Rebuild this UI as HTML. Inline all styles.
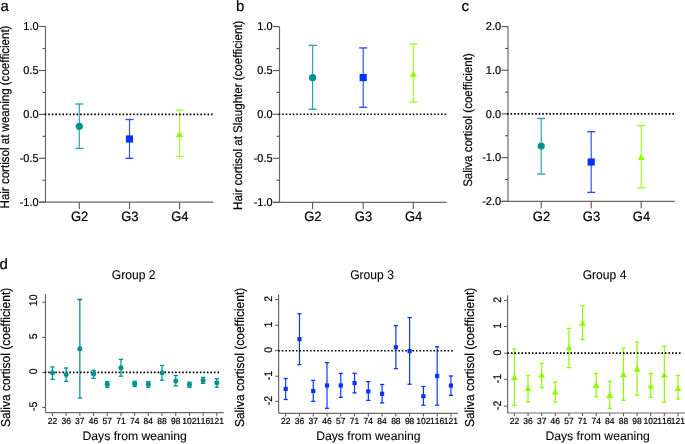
<!DOCTYPE html>
<html><head><meta charset="utf-8"><title>Figure</title><style>
html,body{margin:0;padding:0;background:#fff;width:685px;height:444px;overflow:hidden}
svg{display:block;will-change:transform}
text{font-family:"Liberation Sans",sans-serif;font-kerning:none;text-rendering:geometricPrecision}
</style></head><body>
<svg width="685" height="444" viewBox="0 0 685 444">

<line x1="45.50" y1="26.50" x2="45.50" y2="202.20" stroke="#6a6a6a" stroke-width="1.2" />
<line x1="39.00" y1="202.20" x2="213.40" y2="202.20" stroke="#6a6a6a" stroke-width="1.2" />
<line x1="39.00" y1="26.50" x2="45.50" y2="26.50" stroke="#555" stroke-width="1.1" />
<text transform="translate(38.60 30.30) scale(1.0 1.04)" font-size="11" text-anchor="end" fill="#000" stroke="#000" stroke-width="0.2">1.0</text>
<line x1="39.00" y1="70.50" x2="45.50" y2="70.50" stroke="#555" stroke-width="1.1" />
<text transform="translate(38.60 74.30) scale(1.0 1.04)" font-size="11" text-anchor="end" fill="#000" stroke="#000" stroke-width="0.2">0.5</text>
<line x1="39.00" y1="114.40" x2="45.50" y2="114.40" stroke="#555" stroke-width="1.1" />
<text transform="translate(38.60 118.20) scale(1.0 1.04)" font-size="11" text-anchor="end" fill="#000" stroke="#000" stroke-width="0.2">0.0</text>
<line x1="39.00" y1="158.30" x2="45.50" y2="158.30" stroke="#555" stroke-width="1.1" />
<text transform="translate(38.60 162.10) scale(1.0 1.04)" font-size="11" text-anchor="end" fill="#000" stroke="#000" stroke-width="0.2">-0.5</text>
<line x1="39.00" y1="202.20" x2="45.50" y2="202.20" stroke="#555" stroke-width="1.1" />
<text transform="translate(38.60 206.00) scale(1.0 1.04)" font-size="11" text-anchor="end" fill="#000" stroke="#000" stroke-width="0.2">-1.0</text>
<line x1="42.50" y1="48.50" x2="45.50" y2="48.50" stroke="#555" stroke-width="1.1" />
<line x1="42.50" y1="92.45" x2="45.50" y2="92.45" stroke="#555" stroke-width="1.1" />
<line x1="42.50" y1="136.35" x2="45.50" y2="136.35" stroke="#555" stroke-width="1.1" />
<line x1="42.50" y1="180.25" x2="45.50" y2="180.25" stroke="#555" stroke-width="1.1" />
<line x1="79.30" y1="202.20" x2="79.30" y2="209.00" stroke="#555" stroke-width="1.1" />
<text transform="translate(79.60 221.40) scale(1.0 1.04)" font-size="13" text-anchor="middle" fill="#000" stroke="#000" stroke-width="0.2">G2</text>
<line x1="129.50" y1="202.20" x2="129.50" y2="209.00" stroke="#555" stroke-width="1.1" />
<text transform="translate(129.80 221.40) scale(1.0 1.04)" font-size="13" text-anchor="middle" fill="#000" stroke="#000" stroke-width="0.2">G3</text>
<line x1="179.60" y1="202.20" x2="179.60" y2="209.00" stroke="#555" stroke-width="1.1" />
<text transform="translate(179.90 221.40) scale(1.0 1.04)" font-size="13" text-anchor="middle" fill="#000" stroke="#000" stroke-width="0.2">G4</text>
<text transform="translate(9.20 117.00) rotate(-90) scale(1.0 1.08)" font-size="11.55" text-anchor="middle" fill="#000" stroke="#000" stroke-width="0.2">Hair cortisol at weaning (coefficient)</text>
<line x1="79.30" y1="104.00" x2="79.30" y2="148.40" stroke="#2aa3a4" stroke-width="1.15" />
<line x1="75.30" y1="104.00" x2="83.30" y2="104.00" stroke="#2aa3a4" stroke-width="1.35" />
<line x1="75.30" y1="148.40" x2="83.30" y2="148.40" stroke="#2aa3a4" stroke-width="1.35" />
<line x1="129.50" y1="119.50" x2="129.50" y2="158.30" stroke="#284eff" stroke-width="1.15" />
<line x1="125.50" y1="119.50" x2="133.50" y2="119.50" stroke="#284eff" stroke-width="1.35" />
<line x1="125.50" y1="158.30" x2="133.50" y2="158.30" stroke="#284eff" stroke-width="1.35" />
<line x1="179.60" y1="110.10" x2="179.60" y2="156.40" stroke="#a0fa2c" stroke-width="1.15" />
<line x1="175.60" y1="110.10" x2="183.60" y2="110.10" stroke="#a0fa2c" stroke-width="1.35" />
<line x1="175.60" y1="156.40" x2="183.60" y2="156.40" stroke="#a0fa2c" stroke-width="1.35" />
<line x1="44.70" y1="114.40" x2="212.60" y2="114.40" stroke="#000" stroke-width="1.6" stroke-dasharray="1.6 1.9383"/>
<circle cx="79.30" cy="126.30" r="3.6" fill="#009193"/>
<rect x="125.90" y="135.40" width="7.2" height="7.2" fill="#0433ff"/>
<polygon points="179.60,131.00 183.20,136.90 176.00,136.90" fill="#8efa00"/>
<line x1="279.50" y1="26.60" x2="279.50" y2="202.30" stroke="#6a6a6a" stroke-width="1.2" />
<line x1="273.00" y1="202.30" x2="446.60" y2="202.30" stroke="#6a6a6a" stroke-width="1.2" />
<line x1="273.00" y1="26.60" x2="279.50" y2="26.60" stroke="#555" stroke-width="1.1" />
<text transform="translate(272.60 30.40) scale(1.0 1.04)" font-size="11" text-anchor="end" fill="#000" stroke="#000" stroke-width="0.2">1.0</text>
<line x1="273.00" y1="70.50" x2="279.50" y2="70.50" stroke="#555" stroke-width="1.1" />
<text transform="translate(272.60 74.30) scale(1.0 1.04)" font-size="11" text-anchor="end" fill="#000" stroke="#000" stroke-width="0.2">0.5</text>
<line x1="273.00" y1="114.30" x2="279.50" y2="114.30" stroke="#555" stroke-width="1.1" />
<text transform="translate(272.60 118.10) scale(1.0 1.04)" font-size="11" text-anchor="end" fill="#000" stroke="#000" stroke-width="0.2">0.0</text>
<line x1="273.00" y1="158.30" x2="279.50" y2="158.30" stroke="#555" stroke-width="1.1" />
<text transform="translate(272.60 162.10) scale(1.0 1.04)" font-size="11" text-anchor="end" fill="#000" stroke="#000" stroke-width="0.2">-0.5</text>
<line x1="273.00" y1="202.30" x2="279.50" y2="202.30" stroke="#555" stroke-width="1.1" />
<text transform="translate(272.60 206.10) scale(1.0 1.04)" font-size="11" text-anchor="end" fill="#000" stroke="#000" stroke-width="0.2">-1.0</text>
<line x1="276.50" y1="48.55" x2="279.50" y2="48.55" stroke="#555" stroke-width="1.1" />
<line x1="276.50" y1="92.40" x2="279.50" y2="92.40" stroke="#555" stroke-width="1.1" />
<line x1="276.50" y1="136.30" x2="279.50" y2="136.30" stroke="#555" stroke-width="1.1" />
<line x1="276.50" y1="180.30" x2="279.50" y2="180.30" stroke="#555" stroke-width="1.1" />
<line x1="312.60" y1="202.30" x2="312.60" y2="209.10" stroke="#555" stroke-width="1.1" />
<text transform="translate(312.90 221.40) scale(1.0 1.04)" font-size="13" text-anchor="middle" fill="#000" stroke="#000" stroke-width="0.2">G2</text>
<line x1="363.20" y1="202.30" x2="363.20" y2="209.10" stroke="#555" stroke-width="1.1" />
<text transform="translate(363.50 221.40) scale(1.0 1.04)" font-size="13" text-anchor="middle" fill="#000" stroke="#000" stroke-width="0.2">G3</text>
<line x1="413.30" y1="202.30" x2="413.30" y2="209.10" stroke="#555" stroke-width="1.1" />
<text transform="translate(413.60 221.40) scale(1.0 1.04)" font-size="13" text-anchor="middle" fill="#000" stroke="#000" stroke-width="0.2">G4</text>
<text transform="translate(242.00 115.25) rotate(-90) scale(1.0 1.08)" font-size="11.55" text-anchor="middle" fill="#000" stroke="#000" stroke-width="0.2">Hair cortisol at Slaughter (coefficient)</text>
<line x1="312.60" y1="45.40" x2="312.60" y2="109.20" stroke="#2aa3a4" stroke-width="1.15" />
<line x1="308.60" y1="45.40" x2="316.60" y2="45.40" stroke="#2aa3a4" stroke-width="1.35" />
<line x1="308.60" y1="109.20" x2="316.60" y2="109.20" stroke="#2aa3a4" stroke-width="1.35" />
<line x1="363.20" y1="47.90" x2="363.20" y2="107.30" stroke="#284eff" stroke-width="1.15" />
<line x1="359.20" y1="47.90" x2="367.20" y2="47.90" stroke="#284eff" stroke-width="1.35" />
<line x1="359.20" y1="107.30" x2="367.20" y2="107.30" stroke="#284eff" stroke-width="1.35" />
<line x1="413.30" y1="44.00" x2="413.30" y2="102.00" stroke="#a0fa2c" stroke-width="1.15" />
<line x1="409.30" y1="44.00" x2="417.30" y2="44.00" stroke="#a0fa2c" stroke-width="1.35" />
<line x1="409.30" y1="102.00" x2="417.30" y2="102.00" stroke="#a0fa2c" stroke-width="1.35" />
<line x1="278.66" y1="114.30" x2="446.15" y2="114.30" stroke="#000" stroke-width="1.6" stroke-dasharray="1.6 1.9296"/>
<circle cx="312.60" cy="77.70" r="3.6" fill="#009193"/>
<rect x="359.60" y="74.00" width="7.2" height="7.2" fill="#0433ff"/>
<polygon points="413.30,70.80 416.90,76.80 409.70,76.80" fill="#8efa00"/>
<line x1="508.00" y1="26.60" x2="508.00" y2="201.40" stroke="#6a6a6a" stroke-width="1.2" />
<line x1="501.50" y1="201.40" x2="675.00" y2="201.40" stroke="#6a6a6a" stroke-width="1.2" />
<line x1="501.50" y1="26.60" x2="508.00" y2="26.60" stroke="#555" stroke-width="1.1" />
<text transform="translate(501.10 30.40) scale(1.0 1.04)" font-size="11" text-anchor="end" fill="#000" stroke="#000" stroke-width="0.2">2.0</text>
<line x1="501.50" y1="70.30" x2="508.00" y2="70.30" stroke="#555" stroke-width="1.1" />
<text transform="translate(501.10 74.10) scale(1.0 1.04)" font-size="11" text-anchor="end" fill="#000" stroke="#000" stroke-width="0.2">1.0</text>
<line x1="501.50" y1="113.90" x2="508.00" y2="113.90" stroke="#555" stroke-width="1.1" />
<text transform="translate(501.10 117.70) scale(1.0 1.04)" font-size="11" text-anchor="end" fill="#000" stroke="#000" stroke-width="0.2">0.0</text>
<line x1="501.50" y1="157.60" x2="508.00" y2="157.60" stroke="#555" stroke-width="1.1" />
<text transform="translate(501.10 161.40) scale(1.0 1.04)" font-size="11" text-anchor="end" fill="#000" stroke="#000" stroke-width="0.2">-1.0</text>
<line x1="501.50" y1="201.40" x2="508.00" y2="201.40" stroke="#555" stroke-width="1.1" />
<text transform="translate(501.10 205.20) scale(1.0 1.04)" font-size="11" text-anchor="end" fill="#000" stroke="#000" stroke-width="0.2">-2.0</text>
<line x1="505.00" y1="48.45" x2="508.00" y2="48.45" stroke="#555" stroke-width="1.1" />
<line x1="505.00" y1="92.10" x2="508.00" y2="92.10" stroke="#555" stroke-width="1.1" />
<line x1="505.00" y1="135.75" x2="508.00" y2="135.75" stroke="#555" stroke-width="1.1" />
<line x1="505.00" y1="179.50" x2="508.00" y2="179.50" stroke="#555" stroke-width="1.1" />
<line x1="541.20" y1="201.40" x2="541.20" y2="208.20" stroke="#555" stroke-width="1.1" />
<text transform="translate(541.50 221.40) scale(1.0 1.04)" font-size="13" text-anchor="middle" fill="#000" stroke="#000" stroke-width="0.2">G2</text>
<line x1="591.20" y1="201.40" x2="591.20" y2="208.20" stroke="#555" stroke-width="1.1" />
<text transform="translate(591.50 221.40) scale(1.0 1.04)" font-size="13" text-anchor="middle" fill="#000" stroke="#000" stroke-width="0.2">G3</text>
<line x1="641.20" y1="201.40" x2="641.20" y2="208.20" stroke="#555" stroke-width="1.1" />
<text transform="translate(641.50 221.40) scale(1.0 1.04)" font-size="13" text-anchor="middle" fill="#000" stroke="#000" stroke-width="0.2">G4</text>
<text transform="translate(471.50 120.05) rotate(-90) scale(1.0 1.08)" font-size="11.5" text-anchor="middle" fill="#000" stroke="#000" stroke-width="0.2">Saliva cortisol (coefficient)</text>
<line x1="541.20" y1="118.50" x2="541.20" y2="174.00" stroke="#2aa3a4" stroke-width="1.15" />
<line x1="537.20" y1="118.50" x2="545.20" y2="118.50" stroke="#2aa3a4" stroke-width="1.35" />
<line x1="537.20" y1="174.00" x2="545.20" y2="174.00" stroke="#2aa3a4" stroke-width="1.35" />
<line x1="591.20" y1="131.70" x2="591.20" y2="192.40" stroke="#284eff" stroke-width="1.15" />
<line x1="587.20" y1="131.70" x2="595.20" y2="131.70" stroke="#284eff" stroke-width="1.35" />
<line x1="587.20" y1="192.40" x2="595.20" y2="192.40" stroke="#284eff" stroke-width="1.35" />
<line x1="641.20" y1="125.70" x2="641.20" y2="187.80" stroke="#a0fa2c" stroke-width="1.15" />
<line x1="637.20" y1="125.70" x2="645.20" y2="125.70" stroke="#a0fa2c" stroke-width="1.35" />
<line x1="637.20" y1="187.80" x2="645.20" y2="187.80" stroke="#a0fa2c" stroke-width="1.35" />
<line x1="507.05" y1="113.90" x2="674.00" y2="113.90" stroke="#000" stroke-width="1.6" stroke-dasharray="1.6 1.9181"/>
<circle cx="541.20" cy="146.00" r="3.6" fill="#009193"/>
<rect x="587.60" y="158.40" width="7.2" height="7.2" fill="#0433ff"/>
<polygon points="641.20,153.90 644.80,159.90 637.60,159.90" fill="#8efa00"/>
<text transform="translate(0.50 10.80)" font-size="15" fill="#000" stroke="#000" stroke-width="0.2">a</text>
<text transform="translate(236.10 10.80)" font-size="15" fill="#000" stroke="#000" stroke-width="0.2">b</text>
<text transform="translate(461.40 10.80)" font-size="15" fill="#000" stroke="#000" stroke-width="0.2">c</text>
<text transform="translate(-0.40 268.70)" font-size="15" fill="#000" stroke="#000" stroke-width="0.2">d</text>
<line x1="45.50" y1="294.10" x2="45.50" y2="412.70" stroke="#6a6a6a" stroke-width="1.2" />
<line x1="45.50" y1="412.70" x2="223.60" y2="412.70" stroke="#6a6a6a" stroke-width="1.2" />
<line x1="42.10" y1="302.20" x2="45.50" y2="302.20" stroke="#555" stroke-width="1" />
<text transform="translate(37.10 300.30) rotate(-90) scale(1.0 1.04)" font-size="10.6" text-anchor="middle" fill="#000" stroke="#000" stroke-width="0.2">10</text>
<line x1="42.10" y1="337.40" x2="45.50" y2="337.40" stroke="#555" stroke-width="1" />
<text transform="translate(37.10 336.30) rotate(-90) scale(1.0 1.04)" font-size="10.6" text-anchor="middle" fill="#000" stroke="#000" stroke-width="0.2">5</text>
<line x1="42.10" y1="372.40" x2="45.50" y2="372.40" stroke="#555" stroke-width="1" />
<text transform="translate(37.10 371.30) rotate(-90) scale(1.0 1.04)" font-size="10.6" text-anchor="middle" fill="#000" stroke="#000" stroke-width="0.2">0</text>
<line x1="42.10" y1="407.40" x2="45.50" y2="407.40" stroke="#555" stroke-width="1" />
<text transform="translate(37.10 406.30) rotate(-90) scale(1.0 1.04)" font-size="10.6" text-anchor="middle" fill="#000" stroke="#000" stroke-width="0.2">-5</text>
<line x1="52.45" y1="412.70" x2="52.45" y2="415.90" stroke="#555" stroke-width="1" />
<text transform="translate(52.45 423.70) scale(1.0 1.04)" font-size="8.5" text-anchor="middle" fill="#000" stroke="#000" stroke-width="0.2">22</text>
<line x1="66.15" y1="412.70" x2="66.15" y2="415.90" stroke="#555" stroke-width="1" />
<text transform="translate(66.15 423.70) scale(1.0 1.04)" font-size="8.5" text-anchor="middle" fill="#000" stroke="#000" stroke-width="0.2">36</text>
<line x1="79.85" y1="412.70" x2="79.85" y2="415.90" stroke="#555" stroke-width="1" />
<text transform="translate(79.85 423.70) scale(1.0 1.04)" font-size="8.5" text-anchor="middle" fill="#000" stroke="#000" stroke-width="0.2">37</text>
<line x1="93.55" y1="412.70" x2="93.55" y2="415.90" stroke="#555" stroke-width="1" />
<text transform="translate(93.55 423.70) scale(1.0 1.04)" font-size="8.5" text-anchor="middle" fill="#000" stroke="#000" stroke-width="0.2">46</text>
<line x1="107.25" y1="412.70" x2="107.25" y2="415.90" stroke="#555" stroke-width="1" />
<text transform="translate(107.25 423.70) scale(1.0 1.04)" font-size="8.5" text-anchor="middle" fill="#000" stroke="#000" stroke-width="0.2">57</text>
<line x1="120.95" y1="412.70" x2="120.95" y2="415.90" stroke="#555" stroke-width="1" />
<text transform="translate(120.95 423.70) scale(1.0 1.04)" font-size="8.5" text-anchor="middle" fill="#000" stroke="#000" stroke-width="0.2">71</text>
<line x1="134.65" y1="412.70" x2="134.65" y2="415.90" stroke="#555" stroke-width="1" />
<text transform="translate(134.65 423.70) scale(1.0 1.04)" font-size="8.5" text-anchor="middle" fill="#000" stroke="#000" stroke-width="0.2">74</text>
<line x1="148.35" y1="412.70" x2="148.35" y2="415.90" stroke="#555" stroke-width="1" />
<text transform="translate(148.35 423.70) scale(1.0 1.04)" font-size="8.5" text-anchor="middle" fill="#000" stroke="#000" stroke-width="0.2">84</text>
<line x1="162.05" y1="412.70" x2="162.05" y2="415.90" stroke="#555" stroke-width="1" />
<text transform="translate(162.05 423.70) scale(1.0 1.04)" font-size="8.5" text-anchor="middle" fill="#000" stroke="#000" stroke-width="0.2">88</text>
<line x1="175.75" y1="412.70" x2="175.75" y2="415.90" stroke="#555" stroke-width="1" />
<text transform="translate(175.75 423.70) scale(1.0 1.04)" font-size="8.5" text-anchor="middle" fill="#000" stroke="#000" stroke-width="0.2">98</text>
<line x1="189.45" y1="412.70" x2="189.45" y2="415.90" stroke="#555" stroke-width="1" />
<text transform="translate(189.45 423.70) scale(1.0 1.04)" font-size="8.5" text-anchor="middle" fill="#000" stroke="#000" stroke-width="0.2">102</text>
<line x1="203.15" y1="412.70" x2="203.15" y2="415.90" stroke="#555" stroke-width="1" />
<text transform="translate(203.15 423.70) scale(1.0 1.04)" font-size="8.5" text-anchor="middle" fill="#000" stroke="#000" stroke-width="0.2">116</text>
<line x1="216.85" y1="412.70" x2="216.85" y2="415.90" stroke="#555" stroke-width="1" />
<text transform="translate(216.85 423.70) scale(1.0 1.04)" font-size="8.5" text-anchor="middle" fill="#000" stroke="#000" stroke-width="0.2">121</text>
<text transform="translate(133.60 278.60) scale(1.0 1.05)" font-size="12.1" text-anchor="middle" fill="#000" stroke="#000" stroke-width="0.1">Group 2</text>
<text transform="translate(134.70 440.10)" font-size="12.2" text-anchor="middle" fill="#000" stroke="#000" stroke-width="0.1">Days from weaning</text>
<text transform="translate(10.20 357.40) rotate(-90) scale(1.0 1.08)" font-size="12" text-anchor="middle" fill="#000" stroke="#000" stroke-width="0.2">Saliva cortisol (coefficient)</text>
<line x1="52.45" y1="367.00" x2="52.45" y2="379.30" stroke="#009193" stroke-width="1.2" />
<line x1="50.25" y1="367.00" x2="54.65" y2="367.00" stroke="#009193" stroke-width="1.3" />
<line x1="50.25" y1="379.30" x2="54.65" y2="379.30" stroke="#009193" stroke-width="1.3" />
<line x1="66.15" y1="368.00" x2="66.15" y2="381.40" stroke="#009193" stroke-width="1.2" />
<line x1="63.95" y1="368.00" x2="68.35" y2="368.00" stroke="#009193" stroke-width="1.3" />
<line x1="63.95" y1="381.40" x2="68.35" y2="381.40" stroke="#009193" stroke-width="1.3" />
<line x1="79.85" y1="299.50" x2="79.85" y2="397.90" stroke="#009193" stroke-width="1.2" />
<line x1="77.65" y1="299.50" x2="82.05" y2="299.50" stroke="#009193" stroke-width="1.3" />
<line x1="77.65" y1="397.90" x2="82.05" y2="397.90" stroke="#009193" stroke-width="1.3" />
<line x1="93.55" y1="370.30" x2="93.55" y2="378.20" stroke="#009193" stroke-width="1.2" />
<line x1="91.35" y1="370.30" x2="95.75" y2="370.30" stroke="#009193" stroke-width="1.3" />
<line x1="91.35" y1="378.20" x2="95.75" y2="378.20" stroke="#009193" stroke-width="1.3" />
<line x1="107.25" y1="381.60" x2="107.25" y2="387.30" stroke="#009193" stroke-width="1.2" />
<line x1="105.05" y1="381.60" x2="109.45" y2="381.60" stroke="#009193" stroke-width="1.3" />
<line x1="105.05" y1="387.30" x2="109.45" y2="387.30" stroke="#009193" stroke-width="1.3" />
<line x1="120.95" y1="359.30" x2="120.95" y2="376.20" stroke="#009193" stroke-width="1.2" />
<line x1="118.75" y1="359.30" x2="123.15" y2="359.30" stroke="#009193" stroke-width="1.3" />
<line x1="118.75" y1="376.20" x2="123.15" y2="376.20" stroke="#009193" stroke-width="1.3" />
<line x1="134.65" y1="381.30" x2="134.65" y2="386.50" stroke="#009193" stroke-width="1.2" />
<line x1="132.45" y1="381.30" x2="136.85" y2="381.30" stroke="#009193" stroke-width="1.3" />
<line x1="132.45" y1="386.50" x2="136.85" y2="386.50" stroke="#009193" stroke-width="1.3" />
<line x1="148.35" y1="381.60" x2="148.35" y2="387.30" stroke="#009193" stroke-width="1.2" />
<line x1="146.15" y1="381.60" x2="150.55" y2="381.60" stroke="#009193" stroke-width="1.3" />
<line x1="146.15" y1="387.30" x2="150.55" y2="387.30" stroke="#009193" stroke-width="1.3" />
<line x1="162.05" y1="365.50" x2="162.05" y2="380.20" stroke="#009193" stroke-width="1.2" />
<line x1="159.85" y1="365.50" x2="164.25" y2="365.50" stroke="#009193" stroke-width="1.3" />
<line x1="159.85" y1="380.20" x2="164.25" y2="380.20" stroke="#009193" stroke-width="1.3" />
<line x1="175.75" y1="375.50" x2="175.75" y2="385.80" stroke="#009193" stroke-width="1.2" />
<line x1="173.55" y1="375.50" x2="177.95" y2="375.50" stroke="#009193" stroke-width="1.3" />
<line x1="173.55" y1="385.80" x2="177.95" y2="385.80" stroke="#009193" stroke-width="1.3" />
<line x1="189.45" y1="382.20" x2="189.45" y2="387.30" stroke="#009193" stroke-width="1.2" />
<line x1="187.25" y1="382.20" x2="191.65" y2="382.20" stroke="#009193" stroke-width="1.3" />
<line x1="187.25" y1="387.30" x2="191.65" y2="387.30" stroke="#009193" stroke-width="1.3" />
<line x1="203.15" y1="377.30" x2="203.15" y2="383.40" stroke="#009193" stroke-width="1.2" />
<line x1="200.95" y1="377.30" x2="205.35" y2="377.30" stroke="#009193" stroke-width="1.3" />
<line x1="200.95" y1="383.40" x2="205.35" y2="383.40" stroke="#009193" stroke-width="1.3" />
<line x1="216.85" y1="378.70" x2="216.85" y2="387.20" stroke="#009193" stroke-width="1.2" />
<line x1="214.65" y1="378.70" x2="219.05" y2="378.70" stroke="#009193" stroke-width="1.3" />
<line x1="214.65" y1="387.20" x2="219.05" y2="387.20" stroke="#009193" stroke-width="1.3" />
<line x1="44.70" y1="372.40" x2="219.04" y2="372.40" stroke="#000" stroke-width="1.6" stroke-dasharray="1.6 1.9253"/>
<circle cx="52.45" cy="372.80" r="2.5" fill="#009193"/>
<circle cx="66.15" cy="374.60" r="2.5" fill="#009193"/>
<circle cx="79.85" cy="348.70" r="2.5" fill="#009193"/>
<circle cx="93.55" cy="373.90" r="2.5" fill="#009193"/>
<circle cx="107.25" cy="384.30" r="2.5" fill="#009193"/>
<circle cx="120.95" cy="367.80" r="2.5" fill="#009193"/>
<circle cx="134.65" cy="383.80" r="2.5" fill="#009193"/>
<circle cx="148.35" cy="384.30" r="2.5" fill="#009193"/>
<circle cx="162.05" cy="372.70" r="2.5" fill="#009193"/>
<circle cx="175.75" cy="380.90" r="2.5" fill="#009193"/>
<circle cx="189.45" cy="384.50" r="2.5" fill="#009193"/>
<circle cx="203.15" cy="380.40" r="2.5" fill="#009193"/>
<circle cx="216.85" cy="382.80" r="2.5" fill="#009193"/>
<line x1="77.65" y1="299.50" x2="82.05" y2="299.50" stroke="#3a5c86" stroke-width="1.35" />
<line x1="278.60" y1="294.60" x2="278.60" y2="413.30" stroke="#6a6a6a" stroke-width="1.2" />
<line x1="278.60" y1="413.30" x2="457.90" y2="413.30" stroke="#6a6a6a" stroke-width="1.2" />
<line x1="275.20" y1="299.50" x2="278.60" y2="299.50" stroke="#555" stroke-width="1" />
<text transform="translate(271.80 298.80) rotate(-90) scale(1.0 1.04)" font-size="10.6" text-anchor="middle" fill="#000" stroke="#000" stroke-width="0.2">2</text>
<line x1="275.20" y1="325.30" x2="278.60" y2="325.30" stroke="#555" stroke-width="1" />
<text transform="translate(271.80 324.60) rotate(-90) scale(1.0 1.04)" font-size="10.6" text-anchor="middle" fill="#000" stroke="#000" stroke-width="0.2">1</text>
<line x1="275.20" y1="350.60" x2="278.60" y2="350.60" stroke="#555" stroke-width="1" />
<text transform="translate(271.80 349.90) rotate(-90) scale(1.0 1.04)" font-size="10.6" text-anchor="middle" fill="#000" stroke="#000" stroke-width="0.2">0</text>
<line x1="275.20" y1="376.20" x2="278.60" y2="376.20" stroke="#555" stroke-width="1" />
<text transform="translate(271.80 375.50) rotate(-90) scale(1.0 1.04)" font-size="10.6" text-anchor="middle" fill="#000" stroke="#000" stroke-width="0.2">-1</text>
<line x1="275.20" y1="401.30" x2="278.60" y2="401.30" stroke="#555" stroke-width="1" />
<text transform="translate(271.80 400.60) rotate(-90) scale(1.0 1.04)" font-size="10.6" text-anchor="middle" fill="#000" stroke="#000" stroke-width="0.2">-2</text>
<line x1="285.70" y1="413.30" x2="285.70" y2="416.50" stroke="#555" stroke-width="1" />
<text transform="translate(285.70 424.30) scale(1.0 1.04)" font-size="8.5" text-anchor="middle" fill="#000" stroke="#000" stroke-width="0.2">22</text>
<line x1="299.47" y1="413.30" x2="299.47" y2="416.50" stroke="#555" stroke-width="1" />
<text transform="translate(299.47 424.30) scale(1.0 1.04)" font-size="8.5" text-anchor="middle" fill="#000" stroke="#000" stroke-width="0.2">36</text>
<line x1="313.24" y1="413.30" x2="313.24" y2="416.50" stroke="#555" stroke-width="1" />
<text transform="translate(313.24 424.30) scale(1.0 1.04)" font-size="8.5" text-anchor="middle" fill="#000" stroke="#000" stroke-width="0.2">37</text>
<line x1="327.01" y1="413.30" x2="327.01" y2="416.50" stroke="#555" stroke-width="1" />
<text transform="translate(327.01 424.30) scale(1.0 1.04)" font-size="8.5" text-anchor="middle" fill="#000" stroke="#000" stroke-width="0.2">46</text>
<line x1="340.78" y1="413.30" x2="340.78" y2="416.50" stroke="#555" stroke-width="1" />
<text transform="translate(340.78 424.30) scale(1.0 1.04)" font-size="8.5" text-anchor="middle" fill="#000" stroke="#000" stroke-width="0.2">57</text>
<line x1="354.55" y1="413.30" x2="354.55" y2="416.50" stroke="#555" stroke-width="1" />
<text transform="translate(354.55 424.30) scale(1.0 1.04)" font-size="8.5" text-anchor="middle" fill="#000" stroke="#000" stroke-width="0.2">71</text>
<line x1="368.32" y1="413.30" x2="368.32" y2="416.50" stroke="#555" stroke-width="1" />
<text transform="translate(368.32 424.30) scale(1.0 1.04)" font-size="8.5" text-anchor="middle" fill="#000" stroke="#000" stroke-width="0.2">74</text>
<line x1="382.09" y1="413.30" x2="382.09" y2="416.50" stroke="#555" stroke-width="1" />
<text transform="translate(382.09 424.30) scale(1.0 1.04)" font-size="8.5" text-anchor="middle" fill="#000" stroke="#000" stroke-width="0.2">84</text>
<line x1="395.86" y1="413.30" x2="395.86" y2="416.50" stroke="#555" stroke-width="1" />
<text transform="translate(395.86 424.30) scale(1.0 1.04)" font-size="8.5" text-anchor="middle" fill="#000" stroke="#000" stroke-width="0.2">88</text>
<line x1="409.63" y1="413.30" x2="409.63" y2="416.50" stroke="#555" stroke-width="1" />
<text transform="translate(409.63 424.30) scale(1.0 1.04)" font-size="8.5" text-anchor="middle" fill="#000" stroke="#000" stroke-width="0.2">98</text>
<line x1="423.40" y1="413.30" x2="423.40" y2="416.50" stroke="#555" stroke-width="1" />
<text transform="translate(423.40 424.30) scale(1.0 1.04)" font-size="8.5" text-anchor="middle" fill="#000" stroke="#000" stroke-width="0.2">102</text>
<line x1="437.17" y1="413.30" x2="437.17" y2="416.50" stroke="#555" stroke-width="1" />
<text transform="translate(437.17 424.30) scale(1.0 1.04)" font-size="8.5" text-anchor="middle" fill="#000" stroke="#000" stroke-width="0.2">116</text>
<line x1="450.94" y1="413.30" x2="450.94" y2="416.50" stroke="#555" stroke-width="1" />
<text transform="translate(450.94 424.30) scale(1.0 1.04)" font-size="8.5" text-anchor="middle" fill="#000" stroke="#000" stroke-width="0.2">121</text>
<text transform="translate(372.00 278.60) scale(1.0 1.05)" font-size="12.1" text-anchor="middle" fill="#000" stroke="#000" stroke-width="0.1">Group 3</text>
<text transform="translate(368.30 440.10)" font-size="12.2" text-anchor="middle" fill="#000" stroke="#000" stroke-width="0.1">Days from weaning</text>
<text transform="translate(243.60 357.40) rotate(-90) scale(1.0 1.08)" font-size="12" text-anchor="middle" fill="#000" stroke="#000" stroke-width="0.2">Saliva cortisol (coefficient)</text>
<line x1="285.70" y1="378.50" x2="285.70" y2="399.50" stroke="#0433ff" stroke-width="1.15" />
<line x1="283.60" y1="378.50" x2="287.80" y2="378.50" stroke="#0433ff" stroke-width="1.3" />
<line x1="283.60" y1="399.50" x2="287.80" y2="399.50" stroke="#0433ff" stroke-width="1.3" />
<line x1="299.47" y1="313.80" x2="299.47" y2="364.60" stroke="#0433ff" stroke-width="1.15" />
<line x1="297.37" y1="313.80" x2="301.57" y2="313.80" stroke="#0433ff" stroke-width="1.3" />
<line x1="297.37" y1="364.60" x2="301.57" y2="364.60" stroke="#0433ff" stroke-width="1.3" />
<line x1="313.24" y1="380.40" x2="313.24" y2="401.40" stroke="#0433ff" stroke-width="1.15" />
<line x1="311.14" y1="380.40" x2="315.34" y2="380.40" stroke="#0433ff" stroke-width="1.3" />
<line x1="311.14" y1="401.40" x2="315.34" y2="401.40" stroke="#0433ff" stroke-width="1.3" />
<line x1="327.01" y1="362.70" x2="327.01" y2="408.30" stroke="#0433ff" stroke-width="1.15" />
<line x1="324.91" y1="362.70" x2="329.11" y2="362.70" stroke="#0433ff" stroke-width="1.3" />
<line x1="324.91" y1="408.30" x2="329.11" y2="408.30" stroke="#0433ff" stroke-width="1.3" />
<line x1="340.78" y1="373.40" x2="340.78" y2="397.40" stroke="#0433ff" stroke-width="1.15" />
<line x1="338.68" y1="373.40" x2="342.88" y2="373.40" stroke="#0433ff" stroke-width="1.3" />
<line x1="338.68" y1="397.40" x2="342.88" y2="397.40" stroke="#0433ff" stroke-width="1.3" />
<line x1="354.55" y1="373.30" x2="354.55" y2="392.90" stroke="#0433ff" stroke-width="1.15" />
<line x1="352.45" y1="373.30" x2="356.65" y2="373.30" stroke="#0433ff" stroke-width="1.3" />
<line x1="352.45" y1="392.90" x2="356.65" y2="392.90" stroke="#0433ff" stroke-width="1.3" />
<line x1="368.32" y1="381.70" x2="368.32" y2="400.40" stroke="#0433ff" stroke-width="1.15" />
<line x1="366.22" y1="381.70" x2="370.42" y2="381.70" stroke="#0433ff" stroke-width="1.3" />
<line x1="366.22" y1="400.40" x2="370.42" y2="400.40" stroke="#0433ff" stroke-width="1.3" />
<line x1="382.09" y1="384.50" x2="382.09" y2="402.90" stroke="#0433ff" stroke-width="1.15" />
<line x1="379.99" y1="384.50" x2="384.19" y2="384.50" stroke="#0433ff" stroke-width="1.3" />
<line x1="379.99" y1="402.90" x2="384.19" y2="402.90" stroke="#0433ff" stroke-width="1.3" />
<line x1="395.86" y1="325.70" x2="395.86" y2="368.60" stroke="#0433ff" stroke-width="1.15" />
<line x1="393.76" y1="325.70" x2="397.96" y2="325.70" stroke="#0433ff" stroke-width="1.3" />
<line x1="393.76" y1="368.60" x2="397.96" y2="368.60" stroke="#0433ff" stroke-width="1.3" />
<line x1="409.63" y1="317.60" x2="409.63" y2="384.20" stroke="#0433ff" stroke-width="1.15" />
<line x1="407.53" y1="317.60" x2="411.73" y2="317.60" stroke="#0433ff" stroke-width="1.3" />
<line x1="407.53" y1="384.20" x2="411.73" y2="384.20" stroke="#0433ff" stroke-width="1.3" />
<line x1="423.40" y1="386.50" x2="423.40" y2="405.20" stroke="#0433ff" stroke-width="1.15" />
<line x1="421.30" y1="386.50" x2="425.50" y2="386.50" stroke="#0433ff" stroke-width="1.3" />
<line x1="421.30" y1="405.20" x2="425.50" y2="405.20" stroke="#0433ff" stroke-width="1.3" />
<line x1="437.17" y1="346.80" x2="437.17" y2="405.20" stroke="#0433ff" stroke-width="1.15" />
<line x1="435.07" y1="346.80" x2="439.27" y2="346.80" stroke="#0433ff" stroke-width="1.3" />
<line x1="435.07" y1="405.20" x2="439.27" y2="405.20" stroke="#0433ff" stroke-width="1.3" />
<line x1="450.94" y1="376.00" x2="450.94" y2="395.30" stroke="#0433ff" stroke-width="1.15" />
<line x1="448.84" y1="376.00" x2="453.04" y2="376.00" stroke="#0433ff" stroke-width="1.3" />
<line x1="448.84" y1="395.30" x2="453.04" y2="395.30" stroke="#0433ff" stroke-width="1.3" />
<line x1="278.30" y1="350.70" x2="452.80" y2="350.70" stroke="#000" stroke-width="1.6" stroke-dasharray="1.6 1.9286"/>
<rect x="283.60" y="386.80" width="4.2" height="4.2" fill="#0433ff"/>
<rect x="297.37" y="337.00" width="4.2" height="4.2" fill="#0433ff"/>
<rect x="311.14" y="388.90" width="4.2" height="4.2" fill="#0433ff"/>
<rect x="324.91" y="383.40" width="4.2" height="4.2" fill="#0433ff"/>
<rect x="338.68" y="383.40" width="4.2" height="4.2" fill="#0433ff"/>
<rect x="352.45" y="380.90" width="4.2" height="4.2" fill="#0433ff"/>
<rect x="366.22" y="389.30" width="4.2" height="4.2" fill="#0433ff"/>
<rect x="379.99" y="391.70" width="4.2" height="4.2" fill="#0433ff"/>
<rect x="393.76" y="345.20" width="4.2" height="4.2" fill="#0433ff"/>
<rect x="407.53" y="349.00" width="4.2" height="4.2" fill="#0433ff"/>
<rect x="421.30" y="394.10" width="4.2" height="4.2" fill="#0433ff"/>
<rect x="435.07" y="373.90" width="4.2" height="4.2" fill="#0433ff"/>
<rect x="448.84" y="383.50" width="4.2" height="4.2" fill="#0433ff"/>
<line x1="507.60" y1="295.20" x2="507.60" y2="413.00" stroke="#6a6a6a" stroke-width="1.2" />
<line x1="507.60" y1="413.00" x2="686.00" y2="413.00" stroke="#6a6a6a" stroke-width="1.2" />
<line x1="504.20" y1="300.40" x2="507.60" y2="300.40" stroke="#555" stroke-width="1" />
<text transform="translate(500.80 299.70) rotate(-90) scale(1.0 1.04)" font-size="10.6" text-anchor="middle" fill="#000" stroke="#000" stroke-width="0.2">2</text>
<line x1="504.20" y1="326.50" x2="507.60" y2="326.50" stroke="#555" stroke-width="1" />
<text transform="translate(500.80 325.80) rotate(-90) scale(1.0 1.04)" font-size="10.6" text-anchor="middle" fill="#000" stroke="#000" stroke-width="0.2">1</text>
<line x1="504.20" y1="353.20" x2="507.60" y2="353.20" stroke="#555" stroke-width="1" />
<text transform="translate(500.80 352.50) rotate(-90) scale(1.0 1.04)" font-size="10.6" text-anchor="middle" fill="#000" stroke="#000" stroke-width="0.2">0</text>
<line x1="504.20" y1="379.30" x2="507.60" y2="379.30" stroke="#555" stroke-width="1" />
<text transform="translate(500.80 378.60) rotate(-90) scale(1.0 1.04)" font-size="10.6" text-anchor="middle" fill="#000" stroke="#000" stroke-width="0.2">-1</text>
<line x1="504.20" y1="406.10" x2="507.60" y2="406.10" stroke="#555" stroke-width="1" />
<text transform="translate(500.80 405.40) rotate(-90) scale(1.0 1.04)" font-size="10.6" text-anchor="middle" fill="#000" stroke="#000" stroke-width="0.2">-2</text>
<line x1="514.40" y1="413.00" x2="514.40" y2="416.20" stroke="#555" stroke-width="1" />
<text transform="translate(514.40 424.00) scale(1.0 1.04)" font-size="8.5" text-anchor="middle" fill="#000" stroke="#000" stroke-width="0.2">22</text>
<line x1="528.03" y1="413.00" x2="528.03" y2="416.20" stroke="#555" stroke-width="1" />
<text transform="translate(528.03 424.00) scale(1.0 1.04)" font-size="8.5" text-anchor="middle" fill="#000" stroke="#000" stroke-width="0.2">36</text>
<line x1="541.66" y1="413.00" x2="541.66" y2="416.20" stroke="#555" stroke-width="1" />
<text transform="translate(541.66 424.00) scale(1.0 1.04)" font-size="8.5" text-anchor="middle" fill="#000" stroke="#000" stroke-width="0.2">37</text>
<line x1="555.29" y1="413.00" x2="555.29" y2="416.20" stroke="#555" stroke-width="1" />
<text transform="translate(555.29 424.00) scale(1.0 1.04)" font-size="8.5" text-anchor="middle" fill="#000" stroke="#000" stroke-width="0.2">46</text>
<line x1="568.92" y1="413.00" x2="568.92" y2="416.20" stroke="#555" stroke-width="1" />
<text transform="translate(568.92 424.00) scale(1.0 1.04)" font-size="8.5" text-anchor="middle" fill="#000" stroke="#000" stroke-width="0.2">57</text>
<line x1="582.55" y1="413.00" x2="582.55" y2="416.20" stroke="#555" stroke-width="1" />
<text transform="translate(582.55 424.00) scale(1.0 1.04)" font-size="8.5" text-anchor="middle" fill="#000" stroke="#000" stroke-width="0.2">71</text>
<line x1="596.18" y1="413.00" x2="596.18" y2="416.20" stroke="#555" stroke-width="1" />
<text transform="translate(596.18 424.00) scale(1.0 1.04)" font-size="8.5" text-anchor="middle" fill="#000" stroke="#000" stroke-width="0.2">74</text>
<line x1="609.81" y1="413.00" x2="609.81" y2="416.20" stroke="#555" stroke-width="1" />
<text transform="translate(609.81 424.00) scale(1.0 1.04)" font-size="8.5" text-anchor="middle" fill="#000" stroke="#000" stroke-width="0.2">84</text>
<line x1="623.44" y1="413.00" x2="623.44" y2="416.20" stroke="#555" stroke-width="1" />
<text transform="translate(623.44 424.00) scale(1.0 1.04)" font-size="8.5" text-anchor="middle" fill="#000" stroke="#000" stroke-width="0.2">88</text>
<line x1="637.07" y1="413.00" x2="637.07" y2="416.20" stroke="#555" stroke-width="1" />
<text transform="translate(637.07 424.00) scale(1.0 1.04)" font-size="8.5" text-anchor="middle" fill="#000" stroke="#000" stroke-width="0.2">98</text>
<line x1="650.70" y1="413.00" x2="650.70" y2="416.20" stroke="#555" stroke-width="1" />
<text transform="translate(650.70 424.00) scale(1.0 1.04)" font-size="8.5" text-anchor="middle" fill="#000" stroke="#000" stroke-width="0.2">102</text>
<line x1="664.33" y1="413.00" x2="664.33" y2="416.20" stroke="#555" stroke-width="1" />
<text transform="translate(664.33 424.00) scale(1.0 1.04)" font-size="8.5" text-anchor="middle" fill="#000" stroke="#000" stroke-width="0.2">116</text>
<line x1="677.96" y1="413.00" x2="677.96" y2="416.20" stroke="#555" stroke-width="1" />
<text transform="translate(677.96 424.00) scale(1.0 1.04)" font-size="8.5" text-anchor="middle" fill="#000" stroke="#000" stroke-width="0.2">121</text>
<text transform="translate(604.50 278.60) scale(1.0 1.05)" font-size="12.1" text-anchor="middle" fill="#000" stroke="#000" stroke-width="0.1">Group 4</text>
<text transform="translate(597.60 440.10)" font-size="12.2" text-anchor="middle" fill="#000" stroke="#000" stroke-width="0.1">Days from weaning</text>
<text transform="translate(473.60 357.40) rotate(-90) scale(1.0 1.08)" font-size="12" text-anchor="middle" fill="#000" stroke="#000" stroke-width="0.2">Saliva cortisol (coefficient)</text>
<line x1="514.40" y1="349.10" x2="514.40" y2="405.30" stroke="#8efa00" stroke-width="1.2" />
<line x1="512.20" y1="349.10" x2="516.60" y2="349.10" stroke="#8efa00" stroke-width="1.3" />
<line x1="512.20" y1="405.30" x2="516.60" y2="405.30" stroke="#8efa00" stroke-width="1.3" />
<line x1="528.03" y1="375.50" x2="528.03" y2="401.80" stroke="#8efa00" stroke-width="1.2" />
<line x1="525.83" y1="375.50" x2="530.23" y2="375.50" stroke="#8efa00" stroke-width="1.3" />
<line x1="525.83" y1="401.80" x2="530.23" y2="401.80" stroke="#8efa00" stroke-width="1.3" />
<line x1="541.66" y1="363.40" x2="541.66" y2="387.70" stroke="#8efa00" stroke-width="1.2" />
<line x1="539.46" y1="363.40" x2="543.86" y2="363.40" stroke="#8efa00" stroke-width="1.3" />
<line x1="539.46" y1="387.70" x2="543.86" y2="387.70" stroke="#8efa00" stroke-width="1.3" />
<line x1="555.29" y1="382.00" x2="555.29" y2="401.90" stroke="#8efa00" stroke-width="1.2" />
<line x1="553.09" y1="382.00" x2="557.49" y2="382.00" stroke="#8efa00" stroke-width="1.3" />
<line x1="553.09" y1="401.90" x2="557.49" y2="401.90" stroke="#8efa00" stroke-width="1.3" />
<line x1="568.92" y1="328.40" x2="568.92" y2="367.60" stroke="#8efa00" stroke-width="1.2" />
<line x1="566.72" y1="328.40" x2="571.12" y2="328.40" stroke="#8efa00" stroke-width="1.3" />
<line x1="566.72" y1="367.60" x2="571.12" y2="367.60" stroke="#8efa00" stroke-width="1.3" />
<line x1="582.55" y1="305.60" x2="582.55" y2="339.40" stroke="#8efa00" stroke-width="1.2" />
<line x1="580.35" y1="305.60" x2="584.75" y2="305.60" stroke="#8efa00" stroke-width="1.3" />
<line x1="580.35" y1="339.40" x2="584.75" y2="339.40" stroke="#8efa00" stroke-width="1.3" />
<line x1="596.18" y1="373.40" x2="596.18" y2="396.70" stroke="#8efa00" stroke-width="1.2" />
<line x1="593.98" y1="373.40" x2="598.38" y2="373.40" stroke="#8efa00" stroke-width="1.3" />
<line x1="593.98" y1="396.70" x2="598.38" y2="396.70" stroke="#8efa00" stroke-width="1.3" />
<line x1="609.81" y1="381.30" x2="609.81" y2="408.30" stroke="#8efa00" stroke-width="1.2" />
<line x1="607.61" y1="381.30" x2="612.01" y2="381.30" stroke="#8efa00" stroke-width="1.3" />
<line x1="607.61" y1="408.30" x2="612.01" y2="408.30" stroke="#8efa00" stroke-width="1.3" />
<line x1="623.44" y1="348.30" x2="623.44" y2="400.20" stroke="#8efa00" stroke-width="1.2" />
<line x1="621.24" y1="348.30" x2="625.64" y2="348.30" stroke="#8efa00" stroke-width="1.3" />
<line x1="621.24" y1="400.20" x2="625.64" y2="400.20" stroke="#8efa00" stroke-width="1.3" />
<line x1="637.07" y1="342.10" x2="637.07" y2="395.30" stroke="#8efa00" stroke-width="1.2" />
<line x1="634.87" y1="342.10" x2="639.27" y2="342.10" stroke="#8efa00" stroke-width="1.3" />
<line x1="634.87" y1="395.30" x2="639.27" y2="395.30" stroke="#8efa00" stroke-width="1.3" />
<line x1="650.70" y1="373.50" x2="650.70" y2="397.30" stroke="#8efa00" stroke-width="1.2" />
<line x1="648.50" y1="373.50" x2="652.90" y2="373.50" stroke="#8efa00" stroke-width="1.3" />
<line x1="648.50" y1="397.30" x2="652.90" y2="397.30" stroke="#8efa00" stroke-width="1.3" />
<line x1="664.33" y1="346.30" x2="664.33" y2="402.20" stroke="#8efa00" stroke-width="1.2" />
<line x1="662.13" y1="346.30" x2="666.53" y2="346.30" stroke="#8efa00" stroke-width="1.3" />
<line x1="662.13" y1="402.20" x2="666.53" y2="402.20" stroke="#8efa00" stroke-width="1.3" />
<line x1="677.96" y1="375.50" x2="677.96" y2="399.00" stroke="#8efa00" stroke-width="1.2" />
<line x1="675.76" y1="375.50" x2="680.16" y2="375.50" stroke="#8efa00" stroke-width="1.3" />
<line x1="675.76" y1="399.00" x2="680.16" y2="399.00" stroke="#8efa00" stroke-width="1.3" />
<line x1="507.40" y1="353.10" x2="680.50" y2="353.10" stroke="#000" stroke-width="1.6" stroke-dasharray="1.6 1.9000"/>
<polygon points="514.40,374.30 517.80,380.10 511.00,380.10" fill="#8efa00"/>
<polygon points="528.03,385.30 531.43,391.10 524.63,391.10" fill="#8efa00"/>
<polygon points="541.66,372.00 545.06,377.60 538.26,377.60" fill="#8efa00"/>
<polygon points="555.29,388.40 558.69,394.50 551.89,394.50" fill="#8efa00"/>
<polygon points="568.92,344.80 572.32,350.30 565.52,350.30" fill="#8efa00"/>
<polygon points="582.55,319.90 585.95,325.80 579.15,325.80" fill="#8efa00"/>
<polygon points="596.18,381.80 599.58,388.00 592.78,388.00" fill="#8efa00"/>
<polygon points="609.81,391.70 613.21,397.90 606.41,397.90" fill="#8efa00"/>
<polygon points="623.44,371.30 626.84,377.20 620.04,377.20" fill="#8efa00"/>
<polygon points="637.07,365.60 640.47,371.80 633.67,371.80" fill="#8efa00"/>
<polygon points="650.70,382.90 654.10,388.60 647.30,388.60" fill="#8efa00"/>
<polygon points="664.33,371.80 667.73,377.50 660.93,377.50" fill="#8efa00"/>
<polygon points="677.96,385.40 681.36,391.10 674.56,391.10" fill="#8efa00"/>
</svg>
</body></html>
